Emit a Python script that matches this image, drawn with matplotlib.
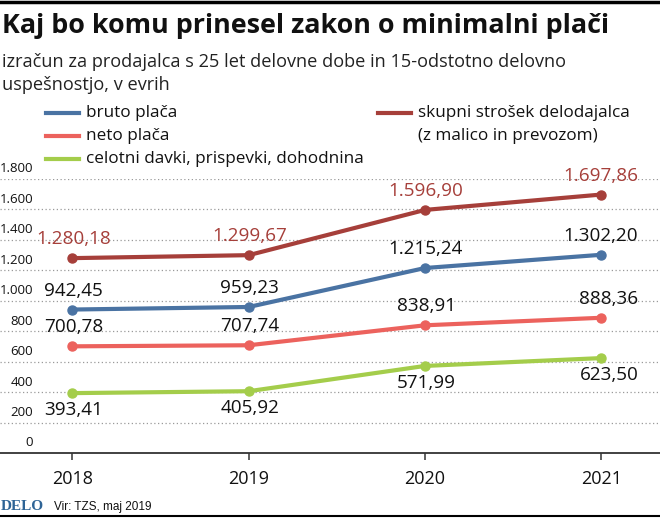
import matplotlib
matplotlib.use("Agg")
import matplotlib.pyplot as plt
from matplotlib.lines import Line2D

years = [2018, 2019, 2020, 2021]
bruto = [942.45, 959.23, 1215.24, 1302.20]
neto = [700.78, 707.74, 838.91, 888.36]
davki = [393.41, 405.92, 571.99, 623.50]
strosek = [1280.18, 1299.67, 1596.90, 1697.86]
yticks = [0, 200, 400, 600, 800, 1000, 1200, 1400, 1600, 1800]
ytick_labels = ["0", "200", "400", "600", "800", "1.000", "1.200", "1.400", "1.600", "1.800"]

title = "Kaj bo komu prinesel zakon o minimalni plači"
subtitle_lines = ["izračun za prodajalca s 25 let delovne dobe in 15-odstotno delovno",
                  "uspešnostjo, v evrih"]
source = "Vir: TZS, maj 2019"

C_BRUTO = "#4a73a3"
C_NETO = "#ec625d"
C_DAVKI = "#a4cd4b"
C_STROSEK = "#a63f3a"

FONT = "Open Sans"
plt.rcParams['font.family'] = [FONT, 'DejaVu Sans']

W, H = 660, 518
fig = plt.figure(figsize=(W / 100, H / 100), dpi=100)

def px(x, y):
    return x / W, 1 - y / H

# axes: x from 0 to 660 px, y from 179 (1800) to 453 (0)
ax = fig.add_axes([0, 1 - 453 / H, 1, (453 - 179) / H])
x0_px, step = 72.4, 176.3
ax.set_xlim(2018 - x0_px / step, 2018 + (W - x0_px) / step)
ax.set_ylim(0, 1800)
for s in ["top", "right", "left"]:
    ax.spines[s].set_visible(False)
ax.spines["bottom"].set_color("#333333")
ax.spines["bottom"].set_linewidth(1.3)
ax.set_xticks(years)
ax.set_xticklabels([str(y) for y in years], fontsize=13, color="#111111")
ax.tick_params(axis="x", direction="out", length=5, width=1.1, color="#333333", pad=7)
ax.set_yticks([])
ax.patch.set_alpha(0)

for v in yticks[1:]:
    ax.axhline(v, color="#9a9a9a", lw=0.9, ls=(0, (1, 2)), zorder=0)

for v, lab in zip(yticks, ytick_labels):
    ax.annotate(lab, xy=(0, v), xycoords=("axes fraction", "data"),
                xytext=(33, 10), textcoords="offset pixels",
                ha="right", va="center", fontsize=9.5, color="#111111")

series = [
    (strosek, C_STROSEK, C_STROSEK, "above"),
    (bruto, C_BRUTO, "#111111", "above"),
    (neto, C_NETO, "#111111", "above"),
    (davki, C_DAVKI, "#111111", "below"),
]

def fmt(v):
    s = f"{v:,.2f}"
    return s.replace(",", "X").replace(".", ",").replace("X", ".")

for vals, col, tcol, pos in series:
    ax.plot(years, vals, color=col, lw=3, marker="o", ms=6.5, clip_on=False, zorder=3,
            solid_capstyle="round")
    for i, (x, v) in enumerate(zip(years, vals)):
        dy = 19 if pos == "above" else -17
        if i == 3:
            ha, dx = "right", 37
        else:
            ha, dx = "center", 1
        ax.annotate(fmt(v), xy=(x, v), xytext=(dx, dy), textcoords="offset pixels",
                    ha=ha, va="center", fontsize=13.6, color=tcol, zorder=4)

# top / bottom rules
fig.add_artist(Line2D([0, 1], [1 - 1.5 / H, 1 - 1.5 / H], color="black", lw=2.5))
fig.add_artist(Line2D([0, 1], [1 - 516 / H, 1 - 516 / H], color="black", lw=1.5))

# title / subtitle
fig.text(*px(2, 26), title, fontsize=19.4, fontweight="bold", color="#111111",
         ha="left", va="center")
for i, line in enumerate(subtitle_lines):
    fig.text(*px(2, 62 + 23 * i), line, fontsize=13.1, color="#222222", ha="left",
             va="center")

# legend
legend_items = [
    (46, 86, 113, C_BRUTO, "bruto plača"),
    (46, 86, 136, C_NETO, "neto plača"),
    (46, 86, 159, C_DAVKI, "celotni davki, prispevki, dohodnina"),
    (378, 418, 113, C_STROSEK, "skupni strošek delodajalca"),
]
for lx, tx, y, col, lab in legend_items:
    fig.add_artist(Line2D([lx / W, (lx + 33) / W], [1 - y / H, 1 - y / H], color=col, lw=3))
    fig.text(*px(tx, y), lab, fontsize=12.3, color="#111111", ha="left", va="center")
fig.text(*px(418, 136), "(z malico in prevozom)", fontsize=12.3, color="#111111",
         ha="left", va="center")

# footer
fig.text(*px(1, 507), "DELO", fontsize=11, fontweight="bold", color="#2e6496",
         family=["Liberation Serif", "DejaVu Serif"], ha="left", va="center")
fig.text(*px(54, 507), source, fontsize=8.5, color="#111111", ha="left", va="center",
         family=["Liberation Sans Narrow", "Liberation Sans", "DejaVu Sans"])

fig.savefig("out.png", dpi=100)
